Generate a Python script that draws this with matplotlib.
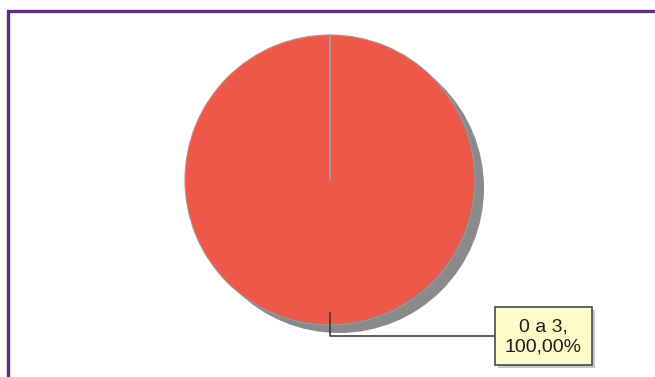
import matplotlib
matplotlib.use("Agg")
import matplotlib.pyplot as plt
from matplotlib.patches import Circle, Rectangle

matplotlib.rcParams["font.family"] = ["Liberation Sans", "DejaVu Sans"]

categories = ["0 a 3"]
values = [100.0]
colors = ["#EE5848"]


def main():
    fig = plt.figure(figsize=(6.55, 3.77), dpi=100)
    ax = fig.add_axes([0, 0, 1, 1])

    cx, cy, r = 330, 180, 145

    # shadow behind the pie
    ax.add_patch(Circle((cx + 9, cy + 8), r, facecolor="#8a8a8a", edgecolor="none", zorder=1))

    ax.pie(values, colors=colors, center=(cx, cy), radius=r, startangle=90,
           counterclock=False, frame=True,
           wedgeprops=dict(edgecolor="#9a9a9a", linewidth=0.8, zorder=2))
    ax.set_xlim(0, 655)
    ax.set_ylim(377, 0)
    ax.set_aspect("equal")
    ax.axis("off")
    # slice border from the centre to 12 o'clock
    ax.plot([cx, cx], [cy, cy - r], color="#a0a0a0", lw=1.2, zorder=3)

    total = sum(values)
    for cat, v in zip(categories, values):
        pct = 100 * v / total
        label = f"{cat},\n{pct:.2f}%".replace(".", ",")
        # leader line
        ax.plot([cx, cx, 495], [cy + r - 12, 336, 336], color="#333333", lw=1.1, zorder=4)
        bx, by, bw, bh = 495, 307, 97, 58
        ax.add_patch(Rectangle((bx + 3, by + 3), bw, bh, facecolor="#c8c8c8", edgecolor="none", zorder=4))
        ax.add_patch(Rectangle((bx, by), bw, bh, facecolor="#FFFBC8", edgecolor="#3a3a3a", lw=1.1, zorder=5))
        ax.text(bx + bw / 2, by + bh / 2 + 1, label, ha="center", va="center",
                fontsize=14, color="#1e1e1e", linespacing=1.2, zorder=6)

    # purple frame
    ax.plot([8, 8, 655], [377, 11, 11], color="#5C2E86", lw=2.4, solid_joinstyle="miter", zorder=7)

    fig.savefig("out.png", dpi=100)
    plt.close(fig)


if __name__ == "__main__":
    main()
